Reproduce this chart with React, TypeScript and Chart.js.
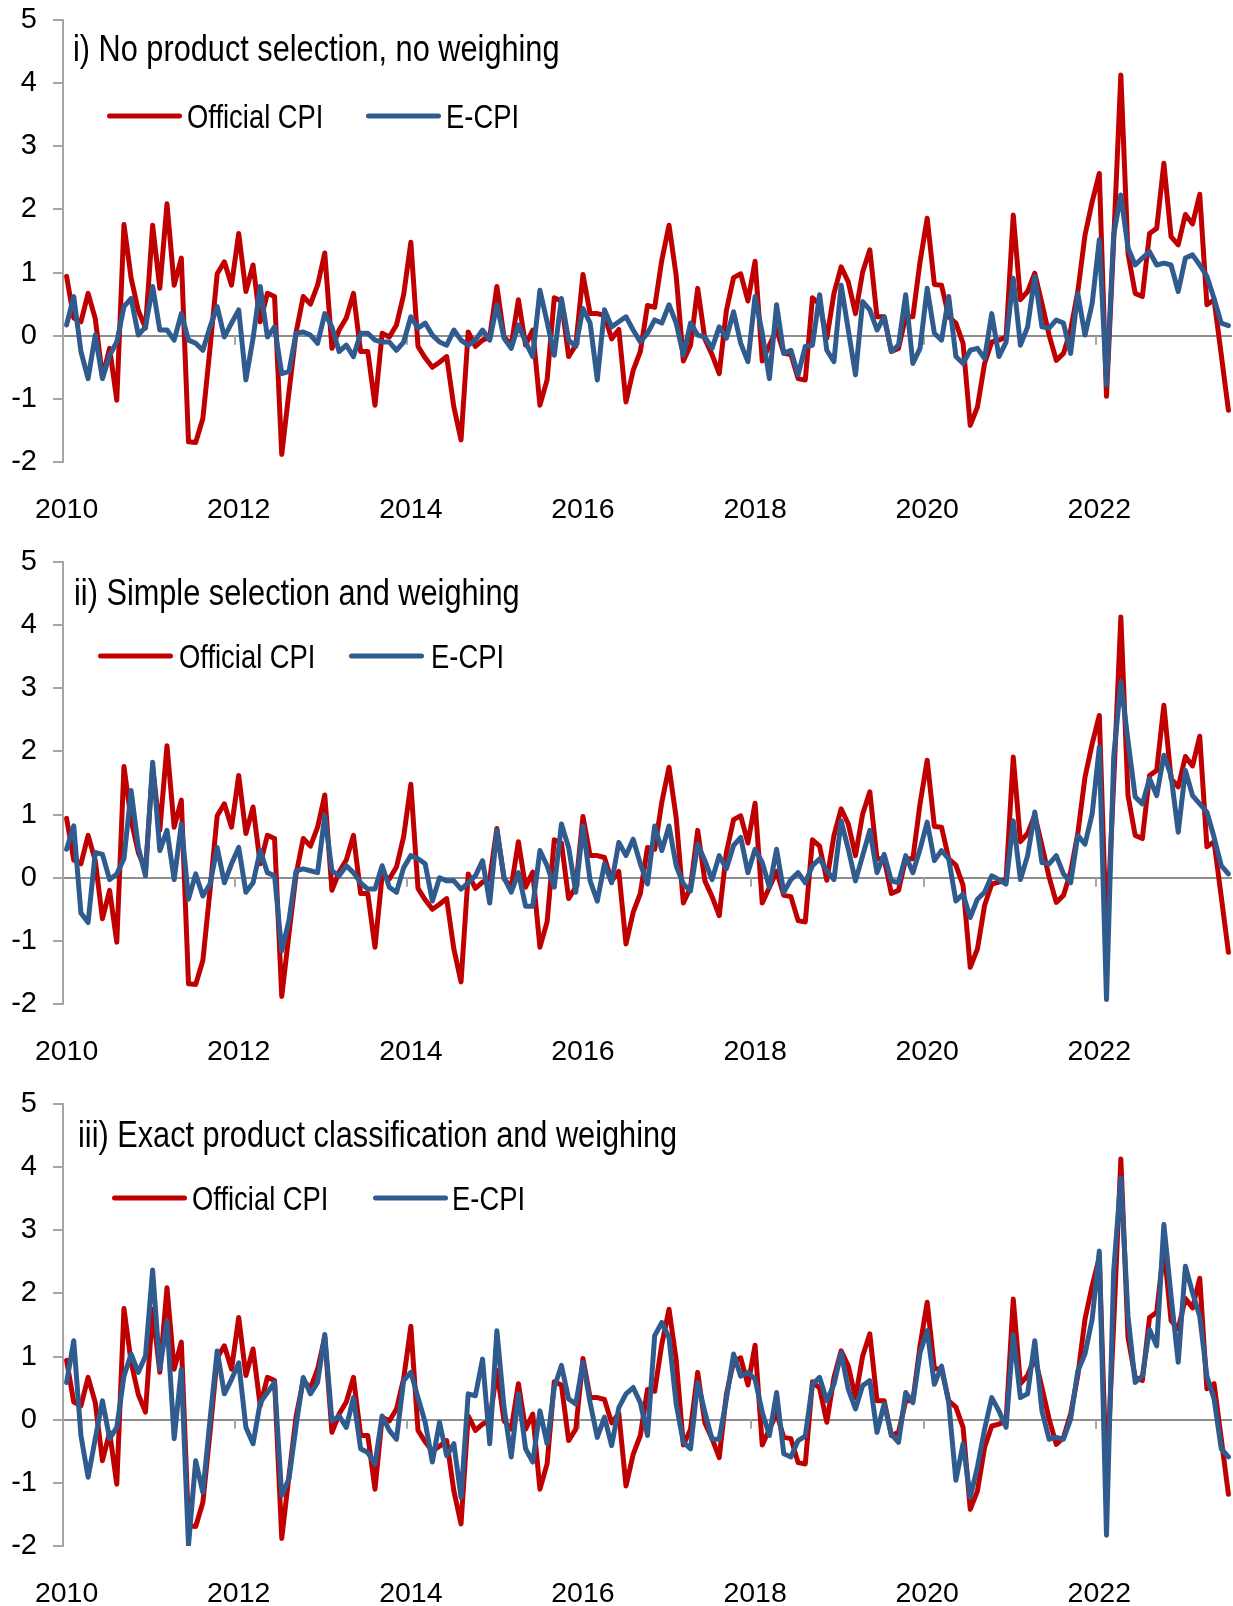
import React, { useEffect, useRef } from "react";
import { Chart, registerables } from "chart.js";

Chart.register(...registerables);

// ---------- DATA ----------
const startYear = 2010;
const yearTickIndices = [0, 24, 48, 72, 96, 120, 144]; // month index of each labelled January
const seriesLabels = ["Official CPI", "E-CPI"];
const panelTitles = [
  "i) No product selection, no weighing",
  "ii) Simple selection and weighing",
  "iii) Exact product classification and weighing",
];

// Monthly changes, Jan 2010 .. Jul 2023
const officialCPI = [
  0.94, 0.28, 0.22, 0.67, 0.27, -0.65, -0.2, -1.02, 1.76, 0.91,
  0.4, 0.12, 1.75, 0.75, 2.09, 0.8, 1.23, -1.68, -1.69, -1.31,
  -0.2, 0.98, 1.17, 0.8, 1.62, 0.7, 1.12, 0.22, 0.67, 0.62,
  -1.88, -0.9, 0.05, 0.62, 0.5, 0.8, 1.31, -0.2, 0.09, 0.28,
  0.67, -0.25, -0.25, -1.1, 0.04, -0.02, 0.17, 0.65, 1.48, -0.17,
  -0.35, -0.5, -0.42, -0.33, -1.13, -1.65, 0.06, -0.17, -0.07, -0.02,
  0.78, -0.02, -0.15, 0.57, -0.15, 0.09, -1.1, -0.7, 0.6, 0.55,
  -0.33, -0.15, 0.97, 0.35, 0.35, 0.32, -0.05, 0.1, -1.05, -0.55,
  -0.25, 0.48, 0.45, 1.2, 1.75, 0.95, -0.4, -0.15, 0.75, -0.05,
  -0.3, -0.6, 0.4, 0.92, 0.98, 0.55, 1.18, -0.4, -0.15, 0.1,
  -0.28, -0.3, -0.68, -0.7, 0.6, 0.5, -0.04, 0.67, 1.09, 0.85,
  0.35, 1.01, 1.36, 0.3, 0.3, -0.25, -0.2, 0.3, 0.3, 1.17,
  1.86, 0.81, 0.8, 0.3, 0.2, -0.12, -1.42, -1.13, -0.44, -0.1,
  -0.07, -0.02, 1.91, 0.57, 0.7, 0.99, 0.51, 0.01, -0.39, -0.28,
  0.09, 0.7, 1.59, 2.12, 2.57, -0.96, 1.5, 4.13, 1.3, 0.67,
  0.62, 1.62, 1.7, 2.73, 1.57, 1.44, 1.92, 1.77, 2.24, 0.49,
  0.57, -0.3, -1.18,
];

const ecpiNoSelection = [
  0.17, 0.62, -0.25, -0.68, 0.01, -0.68, -0.31, -0.1, 0.46, 0.59,
  0.01, 0.14, 0.78, 0.09, 0.09, -0.07, 0.35, -0.07, -0.12, -0.23,
  0.14, 0.46, -0.02, 0.2, 0.41, -0.7, -0.04, 0.78, -0.02, 0.14,
  -0.6, -0.57, 0.04, 0.06, 0.01, -0.12, 0.35, 0.14, -0.25, -0.15,
  -0.33, 0.04, 0.04, -0.07, -0.1, -0.1, -0.23, -0.1, 0.3, 0.12,
  0.2, 0.01, -0.1, -0.15, 0.09, -0.07, -0.15, -0.07, 0.09, -0.07,
  0.49, -0.04, -0.2, 0.17, -0.1, -0.33, 0.72, 0.22, -0.31, 0.59,
  -0.07, -0.17, 0.43, 0.2, -0.7, 0.41, 0.14, 0.22, 0.3, 0.09,
  -0.1, 0.04, 0.25, 0.2, 0.49, 0.2, -0.31, 0.2, 0.01, -0.02,
  -0.2, 0.14, -0.04, 0.38, -0.12, -0.41, 0.62, 0.04, -0.68, 0.49,
  -0.28, -0.23, -0.62, -0.17, -0.15, 0.65, -0.23, -0.41, 0.8, 0.09,
  -0.62, 0.54, 0.41, 0.09, 0.3, -0.25, -0.15, 0.65, -0.44, -0.2,
  0.75, 0.04, -0.07, 0.62, -0.33, -0.44, -0.23, -0.2, -0.36, 0.35,
  -0.33, -0.1, 0.91, -0.15, 0.14, 0.94, 0.14, 0.12, 0.25, 0.2,
  -0.28, 0.67, 0.01, 0.51, 1.52, -0.78, 1.6, 2.23, 1.39, 1.12,
  1.23, 1.33, 1.12, 1.15, 1.12, 0.7, 1.23, 1.28, 1.12, 0.94,
  0.59, 0.2, 0.16,
];

const ecpiSimple = [
  0.45, 0.82, -0.56, -0.71, 0.4, 0.37, -0.03, 0.06, 0.3, 1.38,
  0.48, 0.03, 1.83, 0.43, 0.75, -0.03, 0.85, -0.34, 0.06, -0.29,
  -0.1, 0.48, -0.08, 0.22, 0.48, -0.23, -0.08, 0.43, 0.08, 0.03,
  -1.16, -0.68, 0.11, 0.14, 0.11, 0.08, 0.98, 0.11, 0.03, 0.19,
  0.08, -0.08, -0.18, -0.18, 0.19, -0.15, -0.23, 0.16, 0.35, 0.3,
  0.22, -0.37, 0.0, -0.05, -0.05, -0.18, -0.08, 0.03, 0.27, -0.4,
  0.75, 0.0, -0.23, 0.08, -0.45, -0.45, 0.43, 0.19, -0.15, 0.85,
  0.48, -0.23, 0.82, -0.05, -0.37, 0.22, -0.08, 0.56, 0.35, 0.61,
  0.22, -0.1, 0.82, 0.43, 0.82, 0.19, -0.1, -0.21, 0.53, 0.27,
  -0.03, 0.35, 0.14, 0.51, 0.64, 0.08, 0.45, 0.24, -0.15, 0.45,
  -0.23, -0.03, 0.08, -0.08, 0.19, 0.3, 0.11, -0.03, 0.9, 0.45,
  -0.05, 0.35, 0.75, 0.08, 0.37, -0.05, -0.08, 0.35, 0.08, 0.45,
  0.88, 0.27, 0.43, 0.3, -0.37, -0.26, -0.63, -0.34, -0.23, 0.03,
  -0.03, -0.1, 0.9, -0.03, 0.35, 1.04, 0.24, 0.22, 0.35, 0.06,
  -0.08, 0.67, 0.53, 1.01, 2.07, -1.93, 1.91, 3.1, 2.17, 1.28,
  1.17, 1.57, 1.3, 1.94, 1.62, 0.72, 1.7, 1.3, 1.17, 1.04,
  0.64, 0.19, 0.06,
];

const ecpiExact = [
  0.59, 1.25, -0.25, -0.91, -0.3, 0.3, -0.3, -0.12, 0.69, 1.04,
  0.75, 1.01, 2.37, 0.8, 1.56, -0.3, 0.8, -1.99, -0.65, -1.15,
  0.0, 1.09, 0.41, 0.64, 0.9, -0.12, -0.38, 0.27, 0.43, 0.59,
  -1.2, -0.94, -0.1, 0.67, 0.41, 0.59, 1.35, -0.02, 0.06, -0.12,
  0.35, -0.46, -0.52, -0.7, 0.06, -0.17, -0.31, 0.62, 0.75, 0.35,
  -0.04, -0.67, -0.04, -0.57, -0.38, -1.23, 0.41, 0.38, 0.96, -0.38,
  1.41, 0.19, -0.59, 0.41, -0.46, -0.67, 0.14, -0.38, 0.51, 0.86,
  0.33, 0.25, 0.91, 0.27, -0.28, 0.04, -0.41, 0.19, 0.41, 0.51,
  0.27, -0.25, 1.33, 1.54, 1.3, 0.25, -0.36, -0.46, 0.59, 0.12,
  -0.31, -0.31, 0.33, 1.04, 0.69, 0.75, 0.64, 0.12, -0.25, 0.43,
  -0.54, -0.59, -0.33, -0.26, 0.56, 0.67, 0.3, 0.56, 1.06, 0.48,
  0.17, 0.54, 0.62, -0.2, 0.25, -0.23, -0.36, 0.43, 0.27, 1.06,
  1.41, 0.56, 0.85, 0.27, -0.96, -0.38, -1.23, -0.75, -0.15, 0.35,
  0.14, -0.12, 1.35, 0.35, 0.41, 1.25, 0.14, -0.31, -0.28, -0.31,
  0.01, 0.77, 1.04, 1.59, 2.67, -1.83, 2.35, 3.83, 1.64, 0.59,
  0.69, 1.43, 1.17, 3.09, 1.96, 0.91, 2.43, 2.01, 1.64, 0.69,
  0.33, -0.46, -0.59,
];

const ecpiSeries = [ecpiNoSelection, ecpiSimple, ecpiExact];

// ---------- STYLE / LAYOUT ----------
const RED = "#C00000";
const BLUE = "#2F5B8F";
const AXIS_GRAY = "#A6A6A6";
const ZERO_GRAY = "#8E8E8E";
const SANS = "'Liberation Sans', Arial, sans-serif";
const NARROW_SCALE = 0.83; // Arial Narrow look, drawn with horizontally condensed Liberation Sans
const CHART_TOP = 20;
const CHART_BOTTOM = 462;

const panelHeights = [542, 542, 522];
const panelLayouts = [
  { titleX: 73, titleY: 61, legendY: 116, items: [{ lineX: 107, textX: 187 }, { lineX: 366, textX: 446 }] },
  { titleX: 74, titleY: 63, legendY: 114, items: [{ lineX: 98, textX: 179 }, { lineX: 349, textX: 431 }] },
  { titleX: 78, titleY: 63, legendY: 114, items: [{ lineX: 112, textX: 192 }, { lineX: 373, textX: 452 }] },
];

function narrowText(ctx: CanvasRenderingContext2D, text: string, x: number, y: number, size: number) {
  ctx.save();
  ctx.translate(x, y);
  ctx.scale(NARROW_SCALE, 1);
  ctx.font = `${size}px ${SANS}`;
  ctx.fillStyle = "#000";
  ctx.textAlign = "left";
  ctx.textBaseline = "alphabetic";
  ctx.fillText(text, 0, 0);
  ctx.restore();
}

function makeDecor(title: string, layout: any) {
  return {
    id: "panelDecor",
    beforeDatasetsDraw(chart: any) {
      const { ctx } = chart;
      const xs = chart.scales.x;
      const ys = chart.scales.y;
      const y0 = ys.getPixelForValue(0);
      ctx.save();
      ctx.strokeStyle = AXIS_GRAY;
      ctx.lineWidth = 2;
      for (let k = 1; k < yearTickIndices.length; k++) {
        const x = Math.round(xs.getPixelForValue(yearTickIndices[k] - 0.5));
        ctx.beginPath();
        ctx.moveTo(x, y0);
        ctx.lineTo(x, y0 + 9);
        ctx.stroke();
      }
      ctx.restore();
    },
    afterDatasetsDraw(chart: any) {
      const { ctx } = chart;
      narrowText(ctx, title, layout.titleX, layout.titleY, 37);
      chart.data.datasets.forEach((ds: any, i: number) => {
        const it = layout.items[i];
        ctx.save();
        ctx.strokeStyle = ds.borderColor;
        ctx.lineWidth = 5;
        ctx.lineCap = "round";
        ctx.beginPath();
        ctx.moveTo(it.lineX + 2.5, layout.legendY);
        ctx.lineTo(it.lineX + 75 - 2.5, layout.legendY);
        ctx.stroke();
        ctx.restore();
        narrowText(ctx, ds.label, it.textX, layout.legendY + 12, 33);
      });
    },
  };
}

function Panel({ index }: { index: number }) {
  const ref = useRef<HTMLCanvasElement | null>(null);
  const height = panelHeights[index];
  useEffect(() => {
    const canvas = ref.current;
    if (!canvas) return;
    const ecpi = ecpiSeries[index];
    const chart = new Chart(canvas, {
      type: "line",
      data: {
        datasets: [
          {
            label: seriesLabels[0],
            data: officialCPI.map((v, i) => ({ x: i, y: v })),
            borderColor: RED,
            backgroundColor: RED,
            borderWidth: 5,
            pointRadius: 0,
            tension: 0,
            borderJoinStyle: "round",
            borderCapStyle: "round",
            order: 1,
          },
          {
            label: seriesLabels[1],
            data: ecpi.map((v, i) => ({ x: i, y: v })),
            borderColor: BLUE,
            backgroundColor: BLUE,
            borderWidth: 5,
            pointRadius: 0,
            tension: 0,
            borderJoinStyle: "round",
            borderCapStyle: "round",
            order: 0,
          },
        ],
      },
      options: {
        responsive: false,
        animation: false,
        events: [],
        layout: { padding: { top: CHART_TOP, right: 1, left: 0, bottom: 0 } },
        plugins: { legend: { display: false }, tooltip: { enabled: false }, title: { display: false } },
        scales: {
          x: {
            type: "linear",
            min: -0.5,
            max: officialCPI.length - 0.5,
            grid: { display: false, drawTicks: false },
            border: { display: false },
            afterBuildTicks: (s: any) => {
              s.ticks = yearTickIndices.map((v) => ({ value: v }));
            },
            afterFit: (s: any) => {
              s.height = height - CHART_BOTTOM;
              s.paddingLeft = 0;
              s.paddingRight = 0;
            },
            ticks: {
              callback: (v: any) => String(startYear + Math.round(Number(v) / 12)),
              font: { family: SANS, size: 28.5 },
              color: "#000",
              padding: 31,
              maxRotation: 0,
              autoSkip: false,
            },
          },
          y: {
            min: -2,
            max: 5,
            ticks: { stepSize: 1, font: { family: SANS, size: 29 }, color: "#000", padding: 16 },
            grid: {
              color: (c: any) => (c.tick && c.tick.value === 0 ? ZERO_GRAY : "rgba(0,0,0,0)"),
              tickColor: AXIS_GRAY,
              lineWidth: 2,
              tickLength: 10,
            },
            border: { color: AXIS_GRAY, width: 2 },
            afterFit: (s: any) => {
              s.width = 63;
              s.paddingTop = 0;
              s.paddingBottom = 0;
            },
          },
        },
      },
      plugins: [makeDecor(panelTitles[index], panelLayouts[index])],
    } as any);
    return () => chart.destroy();
  }, [index, height]);
  return <canvas ref={ref} width={1233} height={height} style={{ display: "block" }} />;
}

export default function App() {
  return (
    <div style={{ position: "absolute", left: 0, top: 0, width: 1233, background: "#fff" }}>
      <Panel index={0} />
      <Panel index={1} />
      <Panel index={2} />
    </div>
  );
}
